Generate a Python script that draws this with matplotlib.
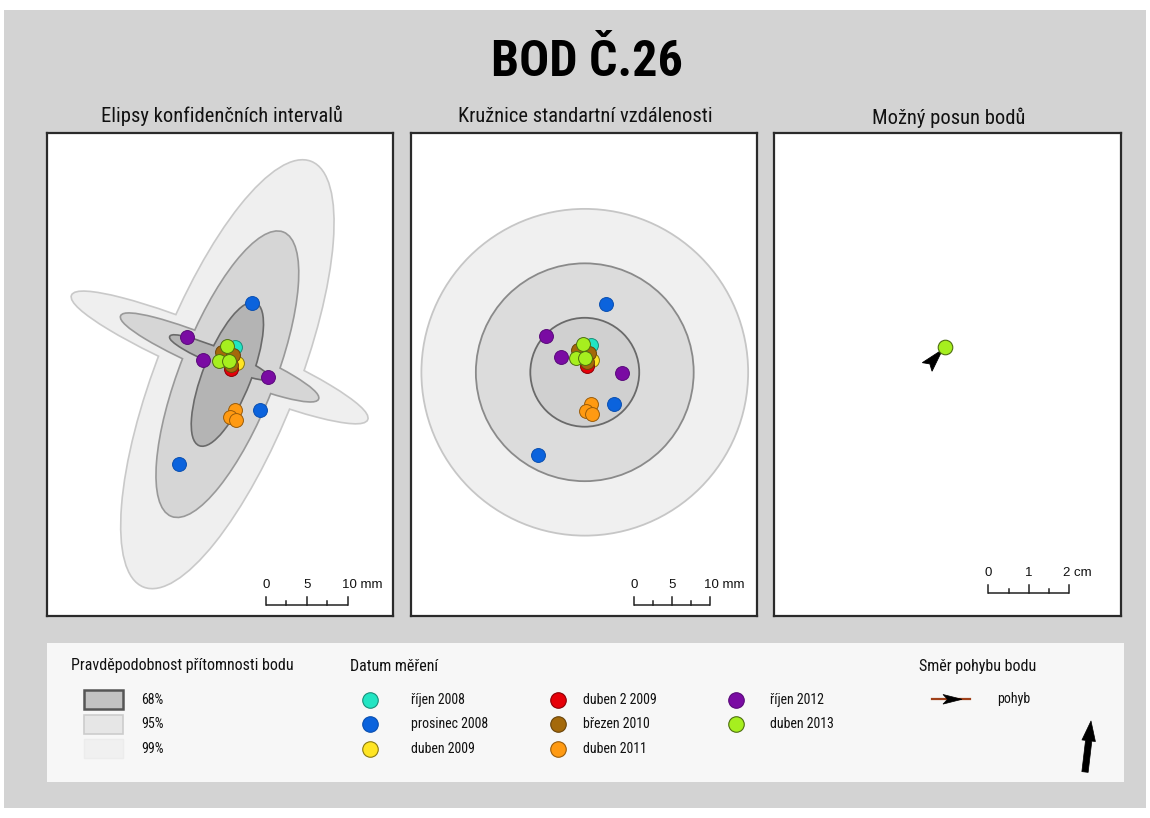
import matplotlib
matplotlib.use("Agg")
import numpy as np
import matplotlib.pyplot as plt
from matplotlib.patches import Ellipse, Circle, Rectangle, FancyArrowPatch, Polygon
from matplotlib import font_manager

# ---------------- data (mm, local coordinates) ----------------
dates = ["říjen 2008", "prosinec 2008", "duben 2009", "duben 2 2009",
         "březen 2010", "duben 2011", "říjen 2012", "duben 2013"]
pts_x = [[0.73], [2.78, 3.79, -6.12], [0.94], [0.24],
         [-0.89, 0.49, 0.30], [0.73, 0.12, 0.86], [-5.10, -3.15, 4.81],
         [-0.21, -1.19, 0.00]]
pts_y = [[1.02], [6.40, -6.73, -13.34], [-0.98], [-1.75],
         [0.40, 0.00, -1.20], [-6.73, -7.55, -7.96], [2.24, -0.61, -2.66],
         [1.14, -0.73, -0.73]]
levels = ["68%", "95%", "99%"]
sigma_mult = [1, 2, 3]
# confidence ellipses (per sigma)
ell_cx = [-0.20, -1.15]
ell_cy = [-2.35, -0.30]
ell_a = [9.30, 6.52]
ell_b = [2.85, 0.95]
ell_ang = [68.5, -22.8]
# standard distance circle
circ_cx, circ_cy, circ_r = -0.03, -2.55, 7.10
# movement (panel 3): tail -> head
move_x = [-4.4, -0.6]
move_y = [-5.0, -0.7]
final_x, final_y = 0.0, 0.0

# ---------------- fonts ----------------
avail = {f.name for f in font_manager.fontManager.ttflist}
def pick(cands):
    for c in cands:
        if c in avail:
            return c
    return "DejaVu Sans"
NARROW = pick(["Roboto Condensed", "Liberation Sans Narrow", "Open Sans Condensed", "Noto Sans", "DejaVu Sans"])
SANS = pick(["Liberation Sans", "DejaVu Sans"])

W, H = 1150, 818
fig = plt.figure(figsize=(W / 100, H / 100), dpi=100)
fig.patch.set_facecolor("white")

def frect(l, t, r, b):
    return [l / W, 1 - b / H, (r - l) / W, (b - t) / H]

def fx(x):
    return x / W

def fy(y):
    return 1 - y / H

fig.patches.append(Rectangle((fx(4), fy(808)), fx(1146) - fx(4), fy(10) - fy(808),
                             transform=fig.transFigure, facecolor="#d3d3d3", edgecolor="none", zorder=-10))

fig.text(fx(587), fy(62), "BOD Č.26", ha="center", va="center", fontsize=36,
         fontweight="bold", family=NARROW, stretch="condensed")

colors = ["#22e5c3", "#0b63dd", "#ffe524", "#e60009", "#a4690b", "#ff9a12", "#7a0ba3", "#a6ef1f"]
edges = ["#1a8f7a", "#0a4fb0", "#8a7a10", "#8a0006", "#6a440a", "#9a5c0a", "#5a0a7a", "#4e6e10"]

def panel(rect, scale, ox, oy):
    l, t, r, b = rect
    ax = fig.add_axes(frect(l, t, r, b))
    ax.set_xlim((l - ox) / scale, (r - ox) / scale)
    ax.set_ylim((oy - b) / scale, (oy - t) / scale)
    ax.set_xticks([]); ax.set_yticks([])
    for s in ax.spines.values():
        s.set_linewidth(1.6); s.set_color("#2a2a2a")
    ax.set_facecolor("white")
    return ax

def scalebar(ax, x0, y0, length, scale, labels, unit):
    tall = 8.0 / scale
    short = 3.5 / scale
    ax.plot([x0, x0 + length], [y0, y0], color="#222", lw=1.1, zorder=20, solid_capstyle="butt")
    n = 4
    for i in range(n + 1):
        xx = x0 + length * i / n
        hh = tall if i % 2 == 0 else short
        ax.plot([xx, xx], [y0, y0 + hh], color="#222", lw=1.1, zorder=20)
    for i, lab in enumerate(labels):
        xx = x0 + length * i / (len(labels) - 1)
        if i == len(labels) - 1:
            ax.text(xx - 6 / scale, y0 + 20 / scale, lab + " " + unit, ha="left", va="center",
                    fontsize=9.5, family=SANS, color="#111")
        else:
            ax.text(xx, y0 + 20 / scale, lab, ha="center", va="center", fontsize=9.5, family=SANS, color="#111")

def draw_points(ax):
    for i in range(len(dates)):
        ax.scatter(pts_x[i], pts_y[i], s=100, color=colors[i], edgecolors=edges[i],
                   linewidths=0.7, zorder=30 + i)

# ---------- Panel 1 ----------
s1 = 8.17
ax1 = panel((47, 133, 393, 616), s1, 229, 355)
fills1 = {3: "#efefef", 2: "#d6d6d6", 1: "#b4b4b4"}
edg1 = {3: "#c9c9c9", 2: "#999999", 1: "#6a6a6a"}
z = 1
for m in [3, 2, 1]:
    for k in range(len(ell_cx)):
        ax1.add_patch(Ellipse((ell_cx[k], ell_cy[k]), 2 * ell_a[k] * m, 2 * ell_b[k] * m,
                              angle=ell_ang[k], facecolor=fills1[m], edgecolor=edg1[m], lw=2.4, zorder=z))
    for k in range(len(ell_cx)):
        ax1.add_patch(Ellipse((ell_cx[k], ell_cy[k]), 2 * ell_a[k] * m, 2 * ell_b[k] * m,
                              angle=ell_ang[k], facecolor=fills1[m], edgecolor="none", zorder=z + 0.5))
    z += 1
draw_points(ax1)
scalebar(ax1, (266 - 229) / s1, (355 - 604.5) / s1, 10, s1, ["0", "5", "10"], "mm")
fig.text(fx(222), fy(116), "Elipsy konfidenčních intervalů", ha="center", va="center",
         fontsize=14.8, family=NARROW, stretch="condensed", color="#111")

# ---------- Panel 2 ----------
s2 = 7.67
ax2 = panel((411, 133, 757, 616), s2, 585, 352.7)
fills2 = {3: "#f0f0f0", 2: "#dcdcdc", 1: "#d0d0d0"}
edg2 = {3: "#c6c6c6", 2: "#8a8a8a", 1: "#6a6a6a"}
for j, m in enumerate([3, 2, 1]):
    ax2.add_patch(Circle((circ_cx, circ_cy), circ_r * m, facecolor=fills2[m], edgecolor=edg2[m],
                         lw=1.3, zorder=1 + j))
draw_points(ax2)
scalebar(ax2, (633.7 - 585) / s2, (352.7 - 604.7) / s2, 10, s2, ["0", "5", "10"], "mm")
fig.text(fx(585), fy(116), "Kružnice standartní vzdálenosti", ha="center", va="center",
         fontsize=14.8, family=NARROW, stretch="condensed", color="#111")

# ---------- Panel 3 ----------
s3 = 4.05
ax3 = panel((774, 133, 1121, 616), s3, 945, 346.7)
tail = np.array([move_x[0], move_y[0]])
tip = np.array([move_x[1], move_y[1]])
u = (tip - tail) / np.linalg.norm(tip - tail)
nrm = np.array([-u[1], u[0]])
hw = 1.6
notch = 1.0
head = [tip, tail + nrm * hw, tail + u * notch, tail - nrm * hw]
ax3.add_patch(Polygon(head, closed=True, facecolor="black", edgecolor="black", lw=0.6, zorder=5))
ax3.scatter([final_x], [final_y], s=110, color=colors[-1], edgecolors=edges[-1], linewidths=0.8, zorder=10)
scalebar(ax3, (988.3 - 945) / s3, (346.7 - 592.7) / s3, 20, s3, ["0", "1", "2"], "cm")
fig.text(fx(949), fy(118), "Možný posun bodů", ha="center", va="center",
         fontsize=14.8, family=NARROW, stretch="condensed", color="#111")

# ---------- Legend ----------
axl = fig.add_axes(frect(47, 643, 1124, 782))
axl.set_xlim(47, 1124); axl.set_ylim(782, 643)
axl.set_xticks([]); axl.set_yticks([])
axl.set_facecolor("#f7f7f7")
for s in axl.spines.values():
    s.set_visible(False)
axl.text(71, 666, "Pravděpodobnost přítomnosti bodu", fontsize=11.5, family=NARROW,
         stretch="condensed", va="center", ha="left", color="#111")
boxf = ["#c2c2c2", "#e6e6e6", "#f0f0f0"]
boxe = ["#555555", "#cccccc", "#ececec"]
boxlw = [1.8, 1.2, 1.0]
for i, lab in enumerate(levels):
    yc = 700 + 24.5 * i
    axl.add_patch(Rectangle((83.5, yc - 9.5), 39, 19, facecolor=boxf[i], edgecolor=boxe[i], lw=boxlw[i]))
    axl.text(141, yc, lab, fontsize=10, family=NARROW, stretch="condensed", va="center", ha="left", color="#111")

axl.text(350, 667, "Datum měření", fontsize=11.5, family=NARROW, stretch="condensed",
         va="center", ha="left", color="#111")
colx = [370, 558, 736]
labx = [411, 583, 770]
for i, d in enumerate(dates):
    c = i // 3
    r = i % 3
    yc = 700 + 24.5 * r
    axl.scatter([colx[c]], [yc], s=125, color=colors[i], edgecolors=edges[i], linewidths=0.8, zorder=5)
    axl.text(labx[c], yc, d, fontsize=10, family=NARROW, stretch="condensed", va="center", ha="left", color="#111")

axl.text(919, 667, "Směr pohybu bodu", fontsize=11.5, family=NARROW, stretch="condensed",
         va="center", ha="left", color="#111")
axl.plot([931.5, 969.5], [699.3, 699.3], color="#a0411a", lw=1.6, zorder=3)
axl.add_patch(Polygon([(962, 699.3), (943, 694.5), (947.5, 699.3), (943, 704.1)], closed=True,
                      facecolor="black", edgecolor="black", lw=0.5, zorder=4))
axl.text(997, 699.5, "pohyb", fontsize=10, family=NARROW, stretch="condensed", va="center", ha="left", color="#111")
axl.add_patch(FancyArrowPatch((1085, 772), (1091, 721),
                              arrowstyle="simple,head_length=1.1,head_width=0.75,tail_width=0.35",
                              mutation_scale=13, shrinkA=0, shrinkB=0, color="black", lw=0.5, zorder=4))

fig.savefig("out.png", dpi=100, facecolor=fig.get_facecolor())
